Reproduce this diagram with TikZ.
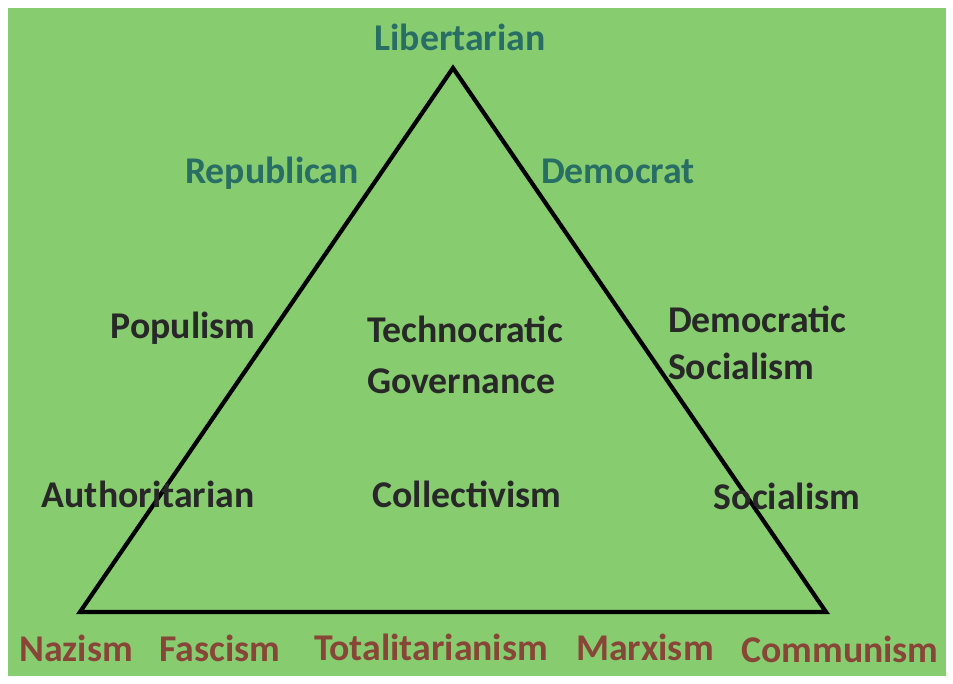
\documentclass[tikz,border=0pt]{standalone}
\usepackage{fontspec}
\setmainfont{Carlito}
\usepackage{xcolor}
\definecolor{bggreen}{RGB}{135,205,112}
\definecolor{partyteal}{RGB}{40,110,100}
\definecolor{ismbrown}{RGB}{135,70,55}
\definecolor{darktext}{RGB}{40,40,40}
\tikzset{%
    label/.style={inner sep=1pt,font=\fontsize{21.5}{27}\selectfont\bfseries},
    party/.style={label,text=partyteal},
    ideology/.style={label,text=darktext},
    regime/.style={label,text=ismbrown},
    side/.style={line width=2.4pt,line join=miter},
}

\begin{document}
\begin{tikzpicture}[x=0.02cm,y=-0.02cm]
        \useasboundingbox (0,0) rectangle (953,683);
        \fill[bggreen] (8,8) rectangle (946,676);

        \coordinate (apex) at (453,68);
        \coordinate (bl) at (80,612);
        \coordinate (br) at (826,612);
        \draw[side] (apex) -- (bl) -- (br) -- cycle;

        \node[party] (lib) at (460,37) {Libertarian};
        \node[party] (rep) at (272,173) {Republican};
        \node[party] (dem) at (618,171) {Democrat};

        \node[ideology] (pop) at (183,328) {Populism};
        \node[ideology,anchor=west,align=left,font=\fontsize{21.5}{29}\selectfont\bfseries] (tech) at (365,355) {Technocratic\\Governance};
        \node[ideology,anchor=west,align=left] (demsoc) at (666,343) {Democratic\\Socialism};
        \node[ideology] (auth) at (148,494) {Authoritarian};
        \node[ideology] (coll) at (467,494) {Collectivism};
        \node[ideology] (soc) at (787,496) {Socialism};

        \node[regime] (naz) at (76,648) {Nazism};
        \node[regime] (fas) at (220,648) {Fascism};
        \node[regime] (tot) at (431,647) {Totalitarianism};
        \node[regime] (marx) at (645,647) {Marxism};
        \node[regime] (comm) at (840,649) {Communism};
      \end{tikzpicture}
\end{document}
